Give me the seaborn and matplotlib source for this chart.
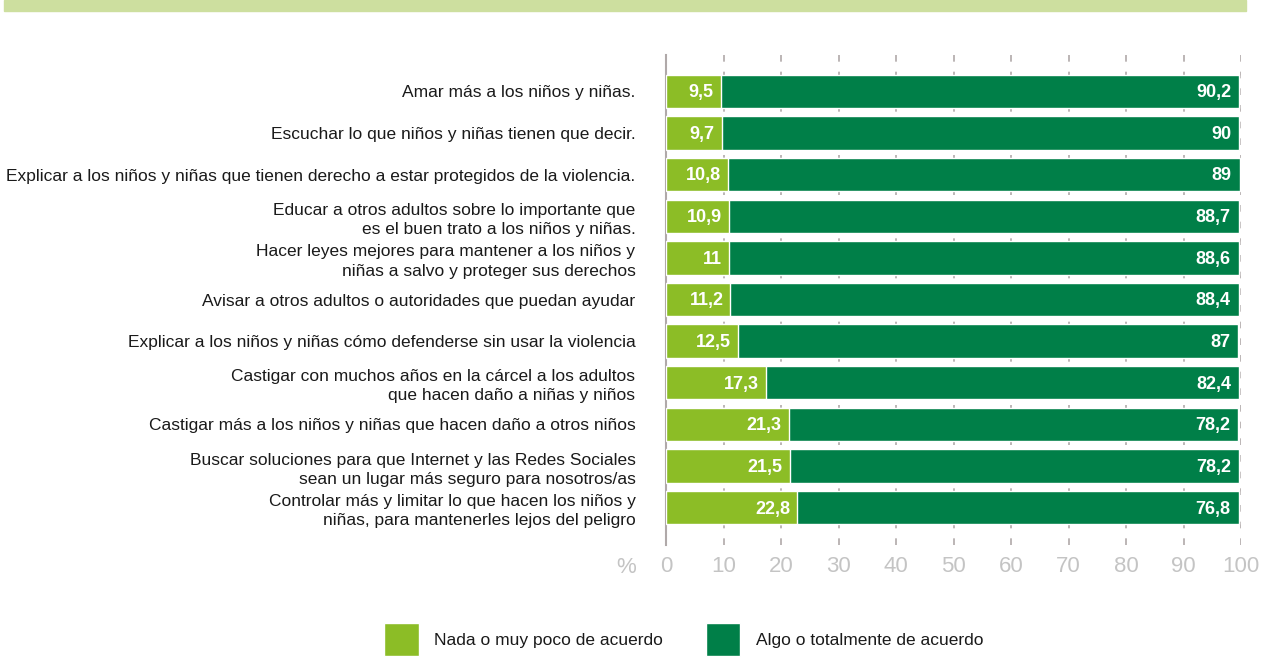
import matplotlib
matplotlib.use("Agg")
import matplotlib.pyplot as plt
import seaborn as sns
import pandas as pd
from matplotlib.patches import Patch

categories = [
    "Amar más a los niños y niñas.",
    "Escuchar lo que niños y niñas tienen que decir.",
    "Explicar a los niños y niñas que tienen derecho a estar protegidos de la violencia.",
    "Educar a otros adultos sobre lo importante que\nes el buen trato a los niños y niñas.",
    "Hacer leyes mejores para mantener a los niños y\nniñas a salvo y proteger sus derechos",
    "Avisar a otros adultos o autoridades que puedan ayudar",
    "Explicar a los niños y niñas cómo defenderse sin usar la violencia",
    "Castigar con muchos años en la cárcel a los adultos\nque hacen daño a niñas y niños",
    "Castigar más a los niños y niñas que hacen daño a otros niños",
    "Buscar soluciones para que Internet y las Redes Sociales\nsean un lugar más seguro para nosotros/as",
    "Controlar más y limitar lo que hacen los niños y\nniñas, para mantenerles lejos del peligro",
]
nada = [9.5, 9.7, 10.8, 10.9, 11, 11.2, 12.5, 17.3, 21.3, 21.5, 22.8]
algo = [90.2, 90, 89, 88.7, 88.6, 88.4, 87, 82.4, 78.2, 78.2, 76.8]
legend_labels = ["Nada o muy poco de acuerdo", "Algo o totalmente de acuerdo"]

LIGHT = "#8cbd26"
DARK = "#007f48"


def fmt(v):
    return f"{v:g}".replace(".", ",")


def main():
    sns.set_style("white")
    plt.rcParams["font.family"] = ["Liberation Sans", "DejaVu Sans"]

    df = pd.DataFrame({"cat": categories, "nada": nada, "algo": algo})
    df["total"] = df["nada"] + df["algo"]

    fig = plt.figure(figsize=(12.71, 6.64), dpi=100)
    ax = fig.add_axes([0.524, 0.179, 0.4525, 0.738])

    # dashed grid behind bars
    for v in range(10, 101, 10):
        ax.axvline(v, color="#b0a9a9", lw=1.2, ls=(0, (4, 6)), zorder=0)

    sns.barplot(data=df, x="total", y="cat", color=DARK, orient="h", width=0.8,
                saturation=1, ax=ax, zorder=2)
    sns.barplot(data=df, x="nada", y="cat", color=LIGHT, orient="h", width=0.8,
                saturation=1, ax=ax, zorder=3)

    # value labels
    for i, (n, a) in enumerate(zip(nada, algo)):
        ax.annotate(fmt(n), (n, i), xytext=(-5, -1), textcoords="offset points",
                    ha="right", va="center", color="white", fontsize=13,
                    fontweight="bold", zorder=5)
        ax.annotate(fmt(a), (n + a, i), xytext=(-6, -1), textcoords="offset points",
                    ha="right", va="center", color="white", fontsize=13,
                    fontweight="bold", zorder=5)

    ax.set_xlim(0, 100)
    ax.set_ylim(10.9, -0.87)
    ax.set_xticks(range(0, 101, 10))
    ax.tick_params(axis="x", length=0, labelsize=16, labelcolor="#c4c4c4", pad=8)
    ax.tick_params(axis="y", length=0, labelsize=12.5, labelcolor="#1a1a1a", pad=22)
    for lab in ax.get_yticklabels():
        lab.set_linespacing(1.35)
    ax.set_xlabel("")
    ax.set_ylabel("")
    for s in ["top", "right", "bottom"]:
        ax.spines[s].set_visible(False)
    ax.spines["left"].set_color("#b0a9a9")
    ax.spines["left"].set_linewidth(1.5)
    ax.text(-0.07, -0.045, "%", transform=ax.transAxes, fontsize=16,
            color="#c4c4c4", ha="center", va="center")

    # top banner
    fig.patches.append(plt.Rectangle((0.003, 0.983), 0.977, 0.017, transform=fig.transFigure,
                                     color="#cddf9f", zorder=0))

    handles = [Patch(facecolor=LIGHT), Patch(facecolor=DARK)]
    fig.legend(handles, legend_labels, loc="lower center", bbox_to_anchor=(0.538, -0.012),
               ncol=2, frameon=False, fontsize=12.5, handlelength=2.0, handleheight=2.6,
               handletextpad=0.9, columnspacing=2.45, labelcolor="#1a1a1a")

    fig.savefig("out.png", dpi=100)


if __name__ == "__main__":
    main()
